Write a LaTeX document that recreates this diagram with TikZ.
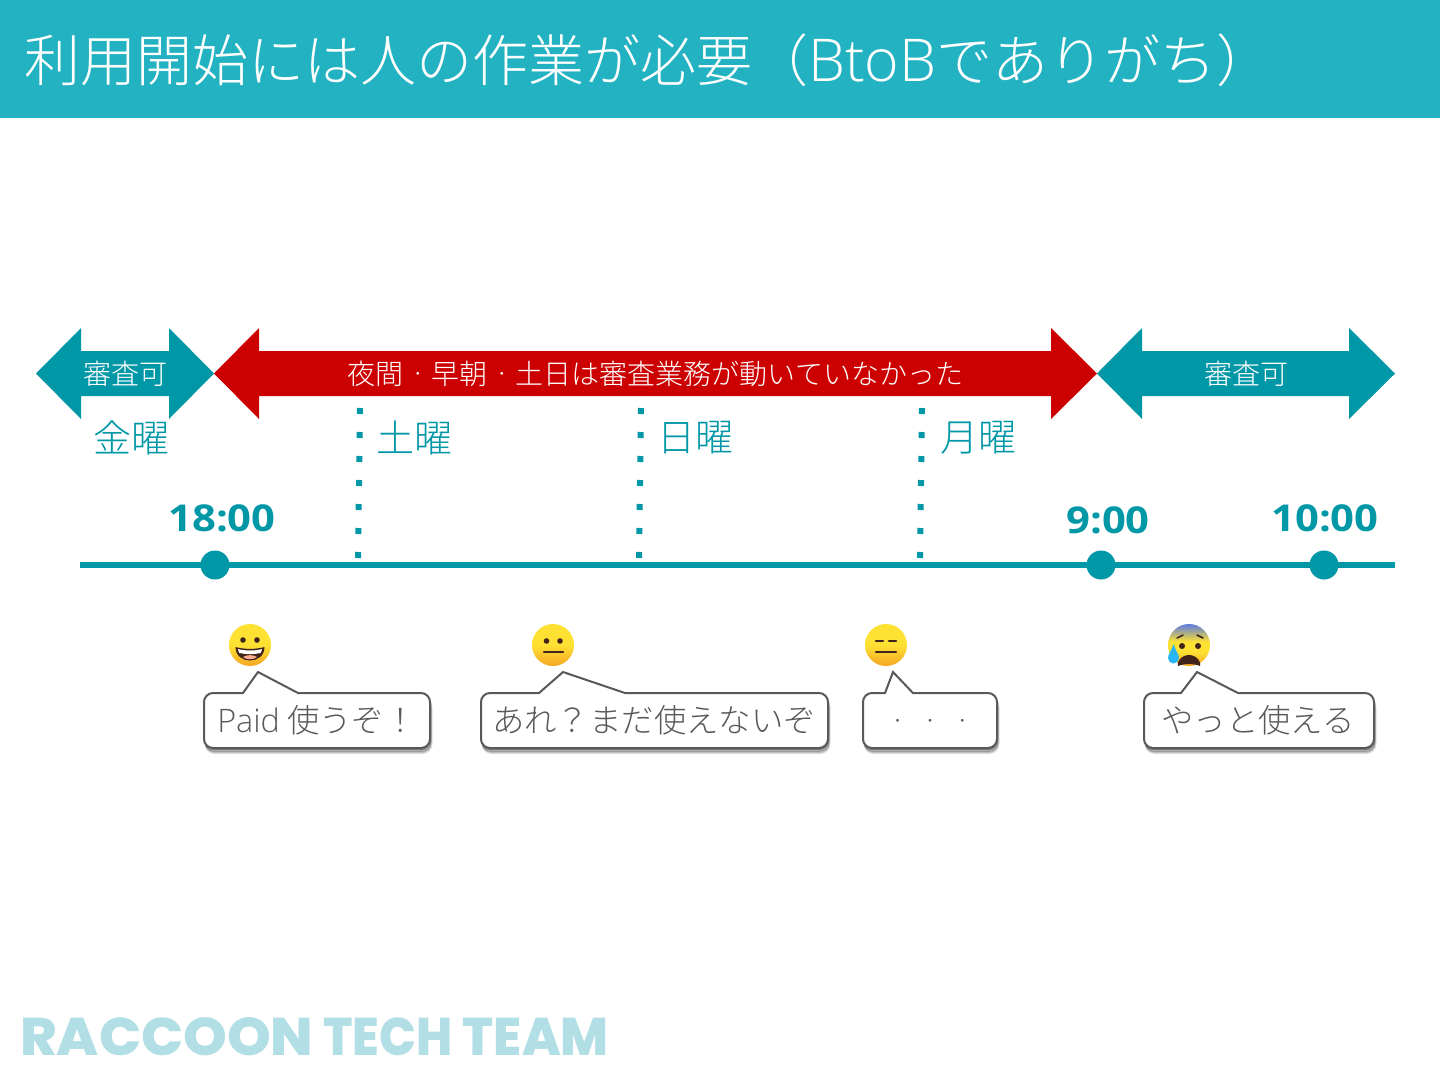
\documentclass[tikz,border=0pt]{standalone}
\usepackage{fontspec}
\usetikzlibrary{shadows,calc}
\setmainfont{Noto Sans CJK JP}[UprightFont=* Light,BoldFont=* Bold]
\newfontfamily\latlight{Open Sans}[UprightFont=* Light]
\newfontfamily\boldlat{Open Sans}[UprightFont=* Bold,FakeStretch=1.13]
\newfontfamily\logoA{Poppins}[UprightFont=* ExtraBold,FakeStretch=1.05]
\newfontfamily\logoB{Poppins}[UprightFont=* ExtraBold,FakeStretch=.92]
\newfontfamily\logoC{Poppins}[UprightFont=* ExtraBold,FakeStretch=.97]
\newcommand\kdot[1]{\makebox[1em][c]{\raisebox{.2em}{\fontsize{#1}{#1}\selectfont ・}}}
\definecolor{headbg}{HTML}{22B2C1}
\definecolor{teal}{HTML}{0097A7}
\definecolor{redarrow}{HTML}{CC0000}
\definecolor{logoc}{HTML}{B2DFE5}
\definecolor{txtgray}{HTML}{595959}
\definecolor{edgegray}{HTML}{595959}
\definecolor{faceA}{HTML}{FEE133}
\definecolor{faceB}{HTML}{F5A623}
\definecolor{faceD}{HTML}{40241A}
\definecolor{faceT}{HTML}{5B7BE0}
\definecolor{dropc}{HTML}{29B6F6}
\pgfdeclareverticalshading{fearshade}{100bp}{color(0bp)=(faceB);color(25bp)=(faceB);color(42bp)=(faceA);color(54bp)=(faceA);color(75bp)=(faceT);color(100bp)=(faceT)}
\tikzset{
  arrowteal/.style={fill=teal,draw=none},
  arrowred/.style={fill=redarrow,draw=none},
  arrowlabel/.style={text=white,font=\fontsize{28}{28}\selectfont,inner sep=0pt},
  daylabel/.style={text=teal,font=\fontsize{38}{38}\selectfont,inner sep=0pt},
  timelabel/.style={text=teal,font=\boldlat\fontsize{37}{37}\selectfont,inner sep=0pt},
  bubbletext/.style={text=txtgray,font=\fontsize{32.4}{32}\selectfont,inner sep=0pt},
  bubble/.style={draw=edgegray,line width=2pt,fill=white,rounded corners=9pt,
     general shadow={shadow xshift=1.5pt,shadow yshift=-5pt,opacity=.12,fill=black,draw=black,line width=2pt},
     general shadow={shadow xshift=1pt,shadow yshift=-3.5pt,opacity=.2,fill=black,draw=black,line width=1pt},
     general shadow={shadow xshift=.5pt,shadow yshift=-2pt,opacity=.3,fill=black}},
  vdots/.style={draw=teal,line width=6pt,dash pattern=on 6pt off 18pt},
  tick/.style={fill=teal,draw=none,circle,minimum size=29pt,inner sep=0pt},
  face/.style={circle,minimum size=42pt,inner sep=0pt,draw=none,top color=faceA,bottom color=faceB,middle color=faceA},
  feat/.style={draw=faceD,line width=2.6pt,line cap=round},
  eye/.style={fill=faceD,draw=none}
}
\begin{document}
\begin{tikzpicture}[x=1pt,y=-1pt]
\useasboundingbox (0,0) rectangle (1440,1080);
\fill[white] (0,0) rectangle (1440,1080);
\fill[headbg] (0,0) rectangle (1440,118);
\node[anchor=west,text=white,inner sep=0pt,font=\fontsize{56}{56}\selectfont] (title) at (24,60) {利用開始には人の作業が必要（{\latlight\fontsize{59}{59}\selectfont BtoB}でありがち）};

% arrows
\fill[arrowteal] (36,373.5)--(81,328)--(81,351)--(169,351)--(169,328)--(214,373.5)--(169,419)--(169,396)--(81,396)--(81,419)--cycle;
\fill[arrowred] (214,373.5)--(259,328)--(259,351)--(1051,351)--(1051,328)--(1097,373.5)--(1051,419)--(1051,396)--(259,396)--(259,419)--cycle;
\fill[arrowteal] (1097,373.5)--(1142,328)--(1142,351)--(1349,351)--(1349,328)--(1395,373.5)--(1349,419)--(1349,396)--(1142,396)--(1142,419)--cycle;
\node[arrowlabel] (a1) at (125,374) {審査可};
\node[arrowlabel] (a2) at (655.5,374) {夜間\kdot{15}早朝\kdot{15}土日は審査業務が動いていなかった};
\node[arrowlabel] (a3) at (1246,374) {審査可};

% days
\node[daylabel] (d1) at (131,438) {金曜};
\node[daylabel] (d2) at (414.5,438) {土曜};
\node[daylabel] (d3) at (695.5,438) {日曜};
\node[daylabel] (d4) at (978,438) {月曜};

% dotted lines
\coordinate (p1a) at (360,408); \coordinate (p1b) at (358,560);
\coordinate (p2a) at (641,408); \coordinate (p2b) at (639,560);
\coordinate (p3a) at (922,408); \coordinate (p3b) at (920,560);
\draw[vdots] (p1a)--(p1b);
\draw[vdots] (p2a)--(p2b);
\draw[vdots] (p3a)--(p3b);

% timeline
\coordinate (t0) at (80,565); \coordinate (t1) at (1395,565);
\draw[teal,line width=6pt] (t0)--(t1);
\node[tick] (n1) at (215,565) {};
\node[tick] (n2) at (1101,565) {};
\node[tick] (n3) at (1324,565) {};
\node[timelabel] (l1) at (222,518) {18:00};
\node[timelabel] (l2) at (1108,520) {9:00};
\node[timelabel] (l3) at (1325,518) {10:00};

% bubbles
\draw[bubble] (204,693) [sharp corners] -- (243,693) -- (258,672) -- (298,693) [rounded corners=9pt] -- (430,693) -- (430,748) -- (204,748) -- cycle;
\draw[bubble] (481,693) [sharp corners] -- (539,693) -- (563,672) -- (625,693) [rounded corners=9pt] -- (828,693) -- (828,748) -- (481,748) -- cycle;
\draw[bubble] (863,693) [sharp corners] -- (885,693) -- (893,672) -- (913,693) -- (919,693) [rounded corners=9pt] -- (997,693) -- (997,748) -- (863,748) -- cycle;
\draw[bubble] (1144,693) [sharp corners] -- (1181,693) -- (1197,672) -- (1238,693) [rounded corners=9pt] -- (1374,693) -- (1374,748) -- (1144,748) -- cycle;
\node[bubbletext] (b1) at (317,720) {{\latlight Paid} 使うぞ！};
\node[bubbletext] (b2) at (654,720) {あれ？まだ使えないぞ};
\node[bubbletext] (b3) at (930,726) {\kdot{15}\kdot{15}\kdot{15}};
\node[bubbletext] (b4) at (1258,720) {やっと使える};

% faces
\node[face] (f1) at (250,645) {};
\fill[eye] (243,640) circle (2.8pt) (257,640) circle (2.8pt);
\fill[faceD] (235.5,647) .. controls (244,649.5) and (256,649.5) .. (264.5,647) .. controls (264.5,665) and (235.5,665) .. (235.5,647) -- cycle;
\fill[white] (238,649) .. controls (245,651) and (255,651) .. (262,649) .. controls (261.8,651) and (261.2,652) .. (260.5,653) .. controls (254,654.5) and (246,654.5) .. (239.5,653) .. controls (238.8,652) and (238.2,651) .. (238,649) -- cycle;
\fill[red!45!orange!45!white] (243,657) .. controls (247,654.5) and (253,654.5) .. (257,657) .. controls (253,660) and (247,660) .. (243,657) -- cycle;

\node[face] (f2) at (553,645) {};
\fill[eye] (546.5,641) circle (2.8pt) (560,641) circle (2.8pt);
\draw[feat] (544,652)--(563,652);

\node[face] (f3) at (886,645) {};
\draw[feat] (876,641)--(883,641) (889,641)--(896,641);
\draw[feat] (876,652)--(896,652);

\node[face,shading=fearshade] (f4) at (1189,645) {};
\fill[eye] (1182,646) circle (3pt) (1198,646) circle (3pt);
\draw[draw=faceD,line width=1.6pt,line cap=round] (1177,638)--(1183,635) (1203,638)--(1197,635);
\fill[faceD] (1189,655) .. controls (1197,655) and (1202,663) .. (1200,666) .. controls (1195,663.5) and (1183,663.5) .. (1178,666) .. controls (1176,663) and (1181,655) .. (1189,655) -- cycle;
\fill[dropc] (1173.5,644) .. controls (1175,650) and (1179,654) .. (1179,658) arc (0:-180:5.5pt) .. controls (1168,654) and (1172,650) .. (1173.5,644) -- cycle;

% logo
\node[anchor=west,text=logoc,inner sep=0pt,font=\logoA\fontsize{53}{53}\selectfont] (logo) at (20,1037) {\spaceskip=10pt RACCOON {\logoB TECH} {\logoC TEAM}};
\end{tikzpicture}
\end{document}
